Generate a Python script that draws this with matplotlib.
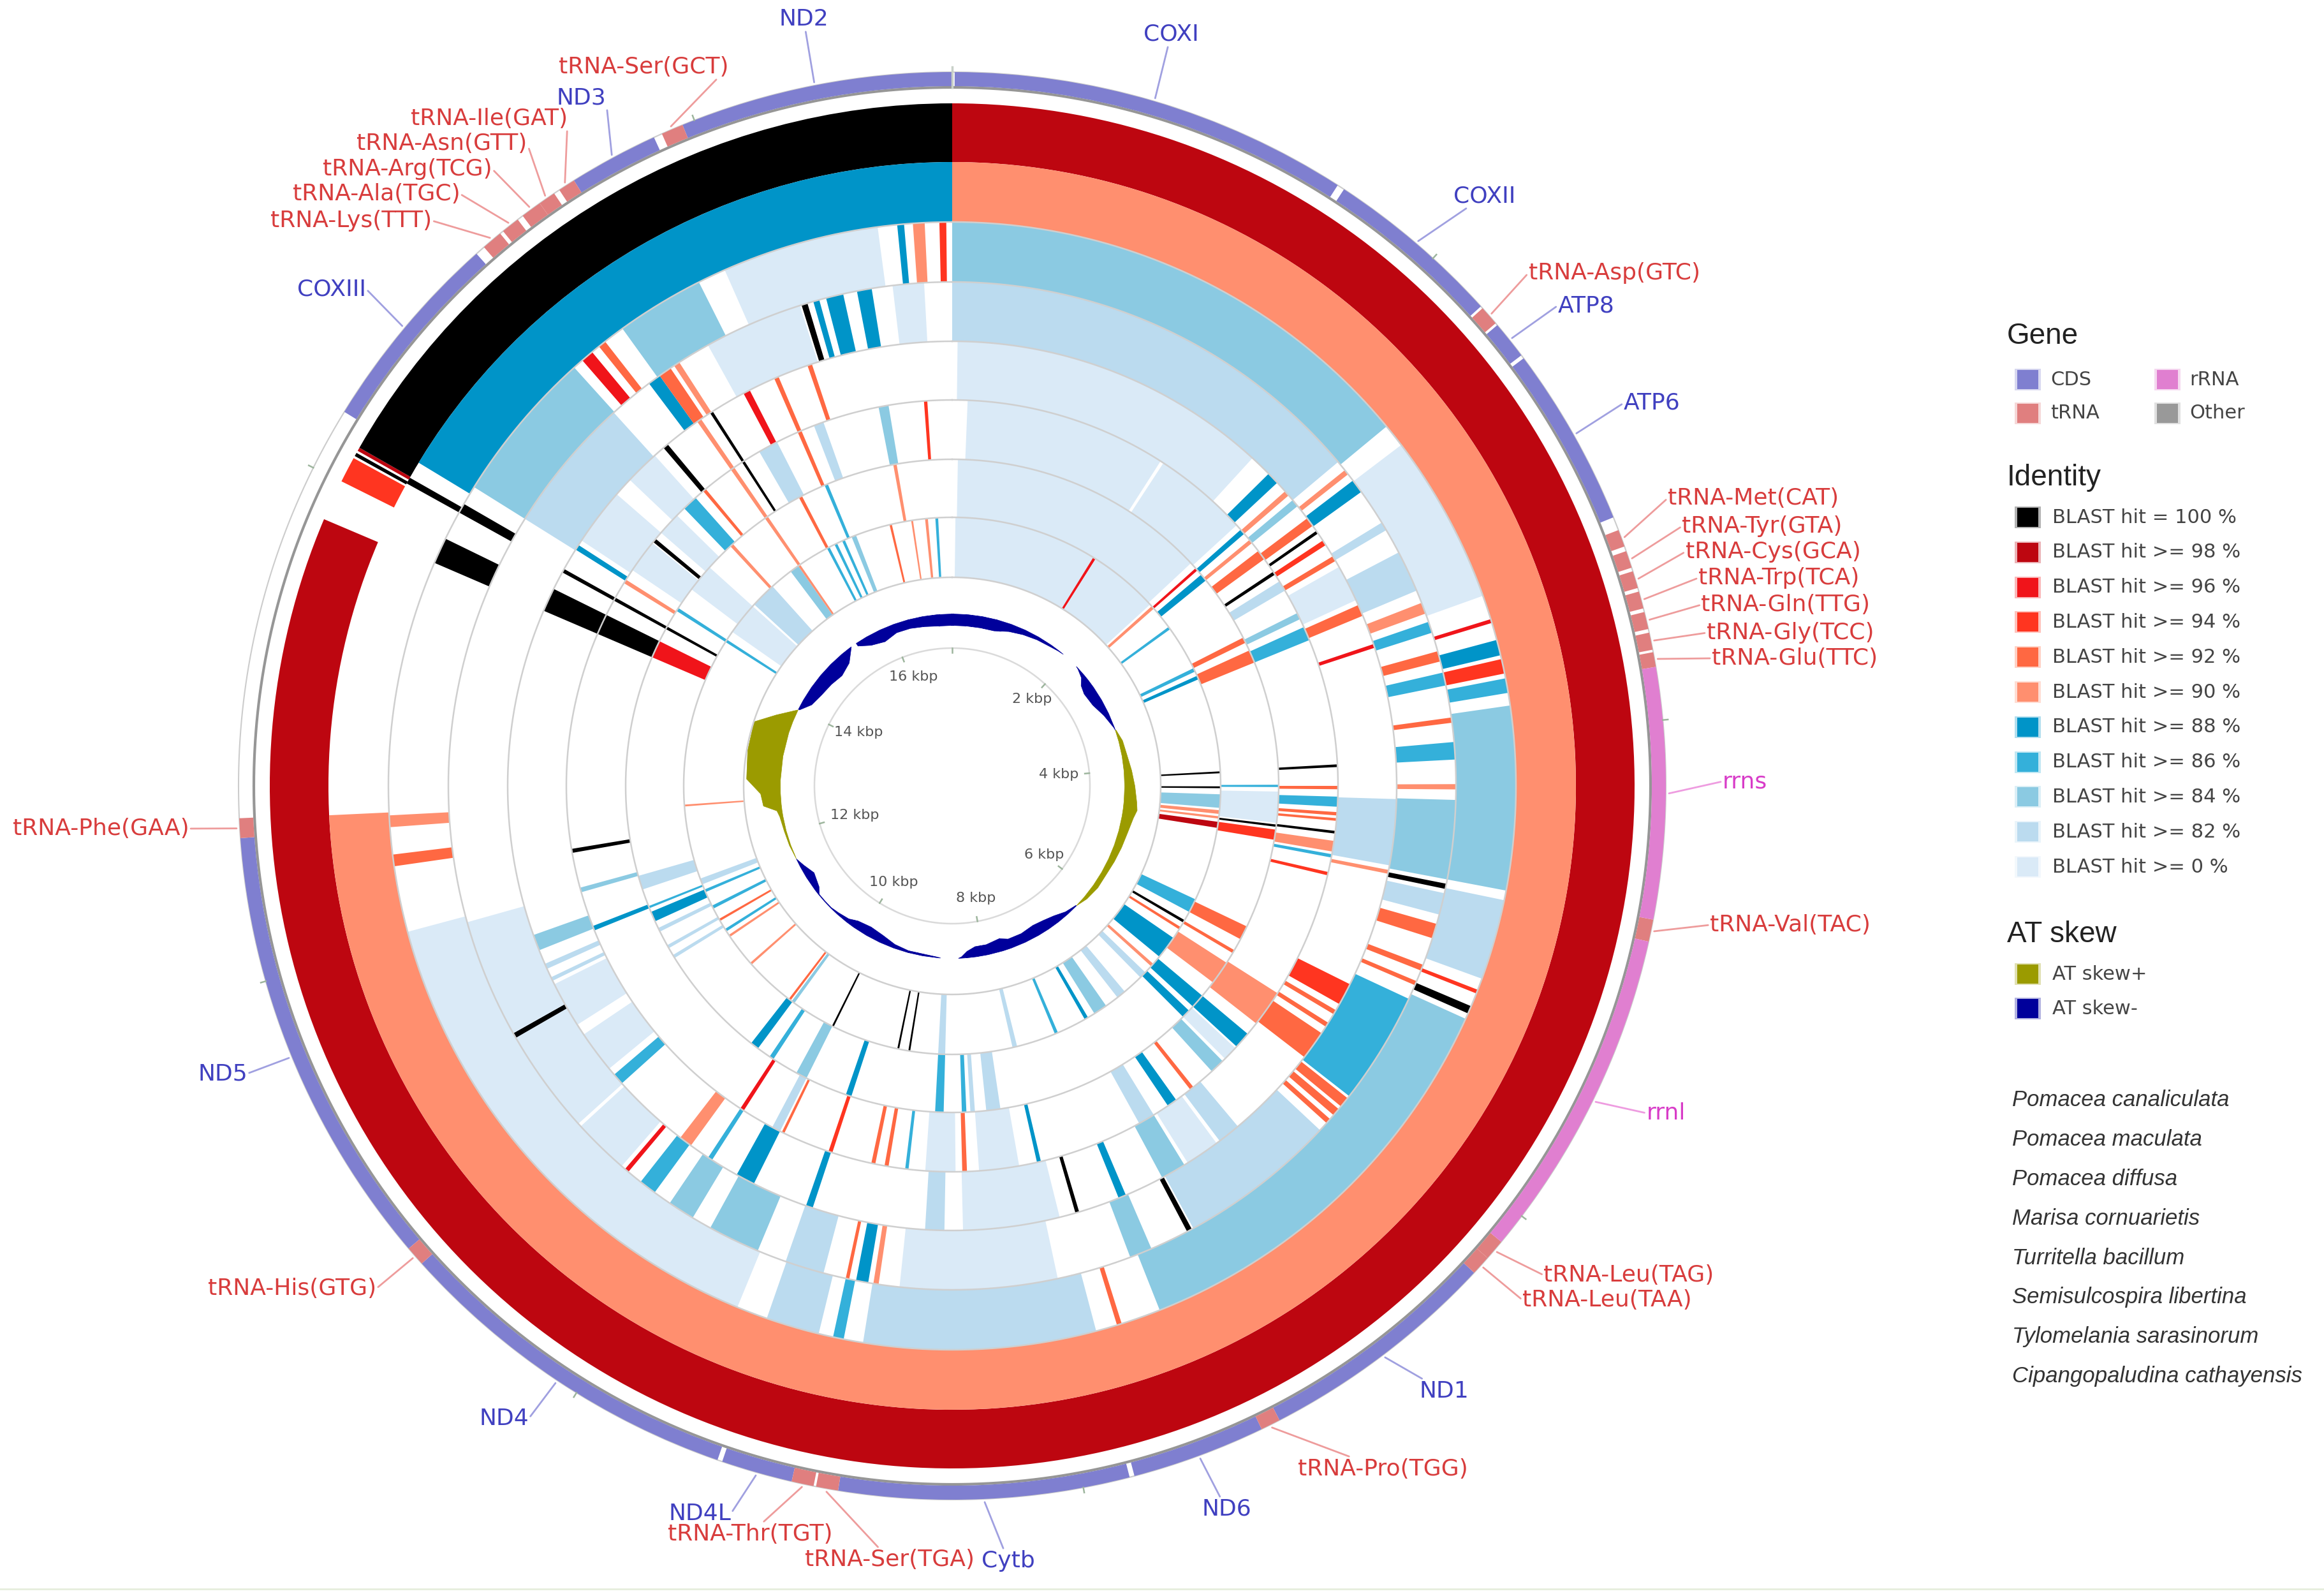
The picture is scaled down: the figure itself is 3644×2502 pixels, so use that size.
import numpy as np
import matplotlib
matplotlib.use("Agg")
import matplotlib.pyplot as plt
from matplotlib.patches import Rectangle

W, H = 3644, 2502
CX, CY = 1493, 1232
RMAX = 1230

# ---------- data ----------
genome_kbp = 17.0
level_colors = {100: '#000000', 98: '#BD0610', 96: '#F0141A', 94: '#FF3520', 92: '#FF6842',
                90: '#FF8F6F', 88: '#0094C8', 86: '#34B0DA', 84: '#8BCAE2', 82: '#BBDBEF', 0: '#DAEAF7'}
levels = [100, 98, 96, 94, 92, 90, 88, 86, 84, 82, 0]

# Each ring: (start deg, end deg, identity level)
ring1 = [(0, 293, 98), (296.5, 298.7, 94), (298.9, 299.2, 100), (299.4, 299.7, 98), (299.7, 360, 100)]
ring2 = [(0, 267.3, 90), (299, 299.6, 100), (301.2, 360, 88)]
ring3 = [(0, 50.4, 84), (52.8, 70.3, 0), (72.8, 73.2, 96), (75, 76.6, 88), (77, 78.5, 94), (79, 80.5, 86),
         (81.8, 100.7, 84), (101.7, 110, 82), (111.2, 111.6, 94), (113, 113.8, 100), (114.4, 158.4, 84),
         (162.5, 163, 92), (165.2, 189.1, 82), (191.1, 192.2, 86), (193.7, 199.2, 82), (202.4, 255, 0),
         (261.8, 263, 92), (265.8, 267, 90), (293.3, 296, 100), (299, 300, 100), (302, 317.9, 84), (319, 320.3, 96),
         (321.2, 322, 92), (324.2, 333.3, 84), (336.2, 352.4, 0), (354.4, 355.1, 88), (356, 357.2, 90),
         (358.7, 359.4, 94)]
ring4 = [(0, 50, 82), (51.2, 51.8, 90), (52.7, 54.3, 88), (58.5, 59.5, 82), (62.4, 67.2, 82), (68.7, 70, 90),
         (71, 72.3, 86), (74.5, 75.7, 92), (77, 78.5, 86), (82.2, 82.8, 92), (85, 87, 86), (89.8, 90.4, 90),
         (91.6, 100.7, 84), (101.2, 101.8, 100), (102.3, 104.8, 82), (105.9, 107.6, 92), (110.8, 111.5, 92),
         (112.8, 113.3, 92), (115, 128, 86), (128.3, 129.5, 92), (129.9, 130.8, 92), (131.4, 132, 92),
         (133.1, 151.4, 82), (151.6, 152.2, 100), (156.7, 159.3, 84), (167.9, 186, 0), (188.4, 189, 90),
         (189.6, 191, 88), (191.8, 192.2, 92), (194.8, 199.3, 82), (202.7, 208.7, 84), (211, 214.1, 84),
         (216.2, 218.2, 86), (220, 220.5, 96), (221, 227.5, 0), (227.9, 240, 0), (240, 240.6, 100),
         (240.6, 254.3, 0), (302, 317.8, 82), (323, 324.5, 88), (324.5, 326, 92), (326.5, 327.2, 90),
         (331, 342.4, 0), (342.6, 343.3, 100), (344, 344.7, 88), (345.5, 347.5, 88), (349.1, 350.8, 88),
         (353.2, 356.8, 0)]
ring5 = [(0.7, 42.5, 0), (45.4, 47, 88), (48.5, 49.2, 90), (50, 51, 84), (53, 54.2, 92), (55, 55.4, 100),
         (56.5, 57.2, 94), (58.9, 59.6, 92), (60.5, 65.3, 0), (66, 67.5, 92), (71.4, 71.9, 96),
         (91.7, 100.3, 82), (100.9, 101.4, 90), (116.5, 119.4, 94), (120.3, 120.9, 92), (122.2, 122.8, 92),
         (123.8, 127.6, 92), (140, 143, 82), (143.5, 148, 0), (148.5, 151.8, 84), (157, 158, 88),
         (163.4, 163.9, 100), (166, 178.6, 0), (181, 183.5, 82), (198.3, 199.2, 88), (206.5, 209, 88),
         (212.7, 213.3, 86), (216, 217.7, 90), (228, 229.5, 86), (230.5, 236, 0), (237.5, 243.5, 0),
         (244, 244.5, 82), (245.7, 246.4, 82), (248.3, 250.4, 84), (293.2, 296.3, 100), (298.7, 299.2, 100),
         (302.1, 302.8, 88), (303.5, 311, 0), (313.5, 318, 0), (319.5, 320.2, 100), (325, 325.6, 90),
         (327, 327.4, 100), (332, 332.9, 96), (336.4, 337, 92), (341, 341.6, 92)]
ring6 = [(2.3, 32.7, 0), (33.2, 47.5, 0), (48.4, 49.2, 88), (50.4, 51, 90), (52.5, 54, 92), (56.3, 56.8, 100),
         (58, 59.6, 82), (63.4, 64.4, 84), (65.7, 67.8, 86), (86.8, 87.2, 100), (90, 90.5, 92), (91.6, 93.1, 86),
         (93.9, 94.4, 92), (94.8, 95.2, 92), (96.7, 97.1, 100), (98.2, 99.8, 90), (100.2, 100.7, 86),
         (102.9, 103.4, 94), (122.5, 128, 90), (130, 132.5, 88), (132.8, 135, 0), (135.5, 137.7, 84),
         (141.3, 141.9, 92), (144.5, 146, 88), (148.5, 151, 82), (166.7, 167.3, 88), (170, 176, 0),
         (177.8, 178.5, 92), (179.5, 184, 0), (186.5, 187, 86), (189.5, 190.1, 92), (191.5, 192.1, 92),
         (198.1, 198.7, 94), (205.8, 206.2, 92), (206.5, 207.8, 82), (212.7, 213.3, 96), (248, 248.7, 88),
         (254, 254.7, 84), (260, 260.6, 100), (293.2, 296.3, 100), (298.7, 299.2, 100), (301.7, 302.3, 90),
         (304, 309, 0), (309.2, 309.8, 100), (311, 314.5, 0), (316, 318.3, 86), (319.8, 320.3, 92),
         (325, 325.6, 90), (327, 327.4, 100), (330, 333, 82), (336.4, 337, 92), (339, 340.5, 82),
         (349, 350.5, 84), (355.8, 356.3, 94)]
ring7 = [(1, 47, 0), (48.2, 48.7, 96), (49.7, 51, 88), (63, 64, 92), (65.5, 67.8, 92), (89.8, 90.2, 86),
         (91, 96.5, 0), (96.8, 97.2, 100), (97.7, 99.5, 94), (115.5, 118, 92), (120.2, 120.8, 92),
         (122.8, 127, 90), (130, 132.5, 88), (133.5, 135, 88), (171.5, 174, 82), (176, 176.8, 82),
         (177.5, 178.3, 86), (181.5, 183, 86), (198, 199, 88), (206.5, 208.5, 84), (213.2, 214, 86),
         (216.5, 218, 88), (238.2, 238.8, 82), (240.2, 240.8, 82), (243.5, 244.2, 82), (245.5, 247.3, 88),
         (248, 248.4, 86), (251.5, 254, 82), (293.2, 296.3, 96), (298.7, 299.2, 100), (302.4, 303, 86),
         (307, 312, 0), (317.2, 317.8, 90), (325, 325.6, 90), (332, 332.6, 92), (337, 337.6, 86),
         (349.6, 350.2, 90)]
ring8 = [(0.7, 31.7, 0), (31.7, 32.3, 96), (32.3, 47.5, 0), (48, 48.7, 90), (53.7, 54.3, 86), (64, 64.8, 86),
         (65.8, 66.6, 88), (86.9, 87.3, 100), (90.1, 90.5, 100), (91.8, 94.7, 84), (95.2, 96, 90), (96.5, 97, 90),
         (97.7, 99, 98), (115, 118, 86), (120, 120.6, 100), (121.7, 122.3, 92), (124.5, 129.5, 88),
         (131.5, 132.2, 90), (134, 135.5, 82), (140, 142, 82), (145, 148, 84), (149.6, 150.4, 88),
         (156.8, 157.5, 86), (166, 167, 82), (181.5, 183, 82), (189, 189.4, 100), (191.4, 191.8, 100),
         (206.2, 206.6, 100), (216, 216.7, 84), (217, 217.5, 92), (228.3, 228.8, 90), (235.8, 236.3, 90),
         (237.2, 237.8, 86), (239.8, 240.3, 92), (242.8, 243.5, 86), (246.7, 247.3, 86), (248.5, 249.8, 82),
         (265.6, 266, 90), (302.4, 303, 86), (305, 312, 0), (312.5, 318, 82), (323, 325, 84), (325, 325.5, 90),
         (332.2, 332.8, 86), (334, 334.6, 86), (335.8, 336.4, 86), (338, 339, 84), (346.5, 347, 92),
         (351.2, 351.6, 90), (354.2, 354.8, 90), (356.4, 357, 86)]
rings = [ring1, ring2, ring3, ring4, ring5, ring6, ring7, ring8]

# Genes: (name, start deg, end deg, label x, label y)
cds = [('ND2', 337.8, 360, 1260, 30), ('COXI', 0.2, 32.7, 1836, 54), ('COXII', 33.3, 47.8, 2328, 307),
       ('ATP8', 49.8, 52.9, 2487, 479), ('ATP6', 53.2, 67.9, 2590, 632), ('ND1', 133, 152.7, 2264, 2181),
       ('ND6', 154.3, 165.2, 1923, 2366), ('Cytb', 165.6, 189.2, 1581, 2447), ('ND4L', 193, 198.8, 1097, 2373),
       ('ND4', 199.2, 228, 790, 2224), ('ND5', 229.6, 265.8, 349, 1683), ('COXIII', 301.6, 318.2, 520, 453),
       ('ND3', 328, 335.3, 911, 153)]
trna = [('tRNA-Asp(GTC)', 48, 49.6, 2531, 428), ('tRNA-Met(CAT)', 69, 70.4, 2749, 781),
        ('tRNA-Tyr(GTA)', 70.8, 72.2, 2763, 825), ('tRNA-Cys(GCA)', 72.5, 73.9, 2780, 865),
        ('tRNA-Trp(TCA)', 74.2, 75.6, 2789, 906), ('tRNA-Gln(TTG)', 75.9, 77.3, 2800, 948),
        ('tRNA-Gly(TCC)', 77.6, 79, 2807, 992), ('tRNA-Glu(TTC)', 79.2, 80.4, 2814, 1032),
        ('tRNA-Val(TAC)', 100.8, 102.6, 2807, 1450), ('tRNA-Leu(TAG)', 129.7, 131.4, 2554, 1999),
        ('tRNA-Leu(TAA)', 131.4, 133, 2520, 2038), ('tRNA-Pro(TGG)', 152.7, 154.3, 2168, 2303),
        ('tRNA-Ser(TGA)', 189.2, 191, 1395, 2445), ('tRNA-Thr(TGT)', 191.2, 193, 1176, 2405),
        ('tRNA-His(GTG)', 228, 229.6, 458, 2020), ('tRNA-Phe(GAA)', 265.8, 267.4, 158, 1299),
        ('tRNA-Lys(TTT)', 319, 320.7, 551, 346), ('tRNA-Ala(TGC)', 321, 322.5, 590, 304),
        ('tRNA-Arg(TCG)', 323, 324.7, 639, 265), ('tRNA-Asn(GTT)', 324.7, 326.1, 693, 225),
        ('tRNA-Ile(GAT)', 326.6, 328, 767, 186), ('tRNA-Ser(GCT)', 336, 337.8, 1009, 105)]
rrna = [('rrns', 80.4, 100.8, 2736, 1225), ('rrnl', 102.6, 129.7, 2612, 1745)]

# AT skew: angle (deg) and skew value
skew_plus_1 = ([71, 75, 80, 85, 90, 95, 97.5, 100, 105, 110, 115, 120, 125, 130, 134],
               [1, 6, 8, 12, 16, 20, 22, 18, 14, 12, 10, 8, 8, 5, 0])
skew_plus_2 = ([245, 250, 255, 260, 262, 264, 267.7, 272, 280, 288, 292, 296.3],
               [0, 2, 3, 5, 8, 28, 31, 53, 56, 57, 28, 0])
skew_minus_1 = ([134, 138, 142, 146, 150, 155, 160, 163, 168, 172, 175, 177, 178],
                [-1, -5, -12, -16, -18, -15, -15, -20, -16, -16, -10, -2, 0])
skew_minus_2 = ([184, 185, 190, 195, 200, 205, 210, 215, 218, 222, 225, 228, 231, 233, 238, 242, 245],
                [0, -1, -3, -3, -6, -12, -15, -12, -6, -3, -1, -1, -1, -8, -14, -6, 0])
skew_minus_3 = ([296.5, 300, 305, 310, 315, 320, 323, 324],
                [-2, -15, -20, -22, -25, -18, -5, 0])
skew_minus_4 = ([326, 330, 335, 340, 345, 350, 355, 360, 365, 370, 375, 380, 385, 390, 395, 398, 400],
                [-5, -15, -20, -14, -14, -16, -18, -18, -18, -18, -18, -12, -8, -5, -3, -1, 0])
skew_minus_5 = ([406, 407, 410, 412, 415, 420, 425, 430, 431],
                [0, -1, -6, -14, -18, -16, -8, -1, 0])

kbp_labels = [('2 kbp', 1618, 1096), ('4 kbp', 1660, 1214), ('6 kbp', 1637, 1340), ('8 kbp', 1530, 1408),
              ('10 kbp', 1401, 1383), ('12 kbp', 1340, 1278), ('14 kbp', 1346, 1148), ('16 kbp', 1432, 1061)]

gene_legend = [('CDS', '#7F7FD0'), ('tRNA', '#E07F7F'), ('rRNA', '#E07FD0'), ('Other', '#999999')]
blast_labels = ['BLAST hit = 100 %', 'BLAST hit >= 98 %', 'BLAST hit >= 96 %', 'BLAST hit >= 94 %',
                'BLAST hit >= 92 %', 'BLAST hit >= 90 %', 'BLAST hit >= 88 %', 'BLAST hit >= 86 %',
                'BLAST hit >= 84 %', 'BLAST hit >= 82 %', 'BLAST hit >= 0 %']
skew_legend = [('AT skew+', '#9B9B00'), ('AT skew-', '#00009B')]
species = ['Pomacea canaliculata', 'Pomacea maculata', 'Pomacea diffusa', 'Marisa cornuarietis',
           'Turritella bacillum', 'Semisulcospira libertina', 'Tylomelania sarasinorum',
           'Cipangopaludina cathayensis']

# ---------- figure ----------
fig = plt.figure(figsize=(W / 100, H / 100), dpi=100, facecolor='white')
ax = fig.add_axes([(CX - RMAX) / W, 1 - (CY + RMAX) / H, 2 * RMAX / W, 2 * RMAX / H], projection='polar')
ax.set_theta_zero_location('N')
ax.set_theta_direction(-1)
ax.set_ylim(0, RMAX)
ax.axis('off')
ov = fig.add_axes([0, 0, 1, 1], facecolor='none')
ov.set_xlim(0, W)
ov.set_ylim(H, 0)
ov.axis('off')

rad = np.deg2rad
ring_edges = [1070, 978, 884, 790, 697, 605, 512, 421, 327]


def arc(a0, a1, r0, r1, color, z=2):
    ax.bar(rad(a0), r1 - r0, width=rad(a1 - a0), bottom=r0, align='edge', color=color, linewidth=0, zorder=z)


for i, ring in enumerate(rings):
    for a0, a1, lv in ring:
        arc(a0, a1, ring_edges[i + 1], ring_edges[i], level_colors[lv])

full = np.linspace(0, 2 * np.pi, 1441)
for r in ring_edges[2:]:
    ax.plot(full, np.full_like(full, r), color='#CFCFCF', lw=1.8, zorder=3)
ax.plot(full, np.full_like(full, 216), color='#DADADA', lw=1.8, zorder=3)

# backbone
ax.plot(full, np.full_like(full, 1095), color='#969696', lw=3.0, zorder=3)
ax.plot(full, np.full_like(full, 1119), color='#CCCCCC', lw=1.5, zorder=3)

# genes
type_style = {'cds': ('#7F7FD0', '#4040C0', '#A0A0E0'), 'trna': ('#E07F7F', '#D83C3C', '#EE9C9C'),
              'rrna': ('#E07FD0', '#D83CC8', '#EE9CE0')}


def draw_gene(name, a0, a1, lx, ly, kind):
    fill, tcol, lcol = type_style[kind]
    arc(a0, a1, 1097, 1119, fill, z=4)
    mid = (a0 + a1) / 2
    rel = (0, 0.5) if lx > 2350 else ((1, 0.5) if lx < 1100 else (0.5, 0.5))
    ax.annotate(name, xy=(rad(mid), 1124), xytext=(lx, ly), textcoords=ov.transData, ha='center', va='center',
                fontsize=26, color=tcol, annotation_clip=False, zorder=6,
                arrowprops=dict(arrowstyle='-', color=lcol, lw=2, shrinkA=0, shrinkB=0, relpos=rel))


for n, a0, a1, lx, ly in cds:
    draw_gene(n, a0, a1, lx, ly, 'cds')
for n, a0, a1, lx, ly in trna:
    draw_gene(n, a0, a1, lx, ly, 'trna')
for n, a0, a1, lx, ly in rrna:
    draw_gene(n, a0, a1, lx, ly, 'rrna')

# ticks
deg_per_kbp = 360 / genome_kbp
for k in np.arange(0, genome_kbp, 2):
    t = rad(k * deg_per_kbp)
    ax.plot([t, t], [1119, 1127], color='#9DB59D', lw=1.8, zorder=5)
    ax.plot([t, t], [209, 216], color='#9DB59D', lw=1.8, zorder=5)
ax.plot([0, 0], [1095, 1127], color='#C8D0C8', lw=2.5, zorder=5)
for txt, x, y in kbp_labels:
    ov.text(x, y, txt, fontsize=16, color='#555555', ha='center', va='center')

# AT skew
BASE = 270
for ang, val in [skew_plus_1, skew_plus_2]:
    ax.fill_between(rad(np.array(ang, float)), BASE, BASE + np.array(val, float), color='#9B9B00', lw=0.5, zorder=2)
for ang, val in [skew_minus_1, skew_minus_2, skew_minus_3, skew_minus_4, skew_minus_5]:
    ax.fill_between(rad(np.array(ang, float)), BASE, BASE + np.array(val, float), color='#00009B', lw=0.5, zorder=2)


# legend
def swatch(x, y, color, w=41, h=34):
    ov.add_patch(Rectangle((x, y - h / 2), w, h, facecolor=color, edgecolor=color, alpha=0.3, lw=0))
    ov.add_patch(Rectangle((x + 4, y - h / 2 + 2), w - 8, h - 4, facecolor=color, lw=0))


TITLE = dict(fontsize=33, family='Liberation Sans', color='#222222', va='center', ha='left')
ENTRY = dict(fontsize=22, color='#444444', va='center', ha='left')
ov.text(3147, 527, 'Gene', **TITLE)
for (lab, col), (sx, tx, sy) in zip(gene_legend, [(3159, 3215, 595), (3159, 3215, 648), (3378, 3433, 595), (3378, 3433, 648)]):
    swatch(sx, sy, col)
    ov.text(tx, sy, lab, **ENTRY)
ov.text(3147, 749, 'Identity', **TITLE)
for i, lv in enumerate(levels):
    y = 811 + i * 54.8
    swatch(3159, y, level_colors[lv])
    ov.text(3218, y, blast_labels[i], **ENTRY)
ov.text(3147, 1465, 'AT skew', **TITLE)
for i, (lab, col) in enumerate(skew_legend):
    y = 1527 + i * 54
    swatch(3159, y, col)
    ov.text(3218, y, lab, **ENTRY)
for i, s in enumerate(species):
    ov.text(3155, 1724 + i * 62, s, fontsize=25, family='Liberation Sans', style='italic', color='#333333',
            va='center', ha='left')

ov.plot([0, W], [2491, 2491], color='#E6EEDC', lw=2)

fig.savefig('out.png', dpi=100)
